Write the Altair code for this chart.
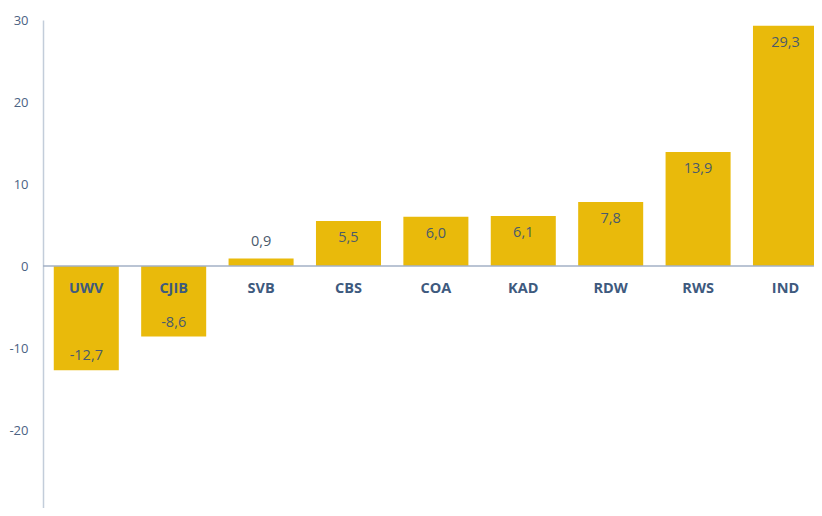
import altair as alt
import pandas as pd

categories = ["UWV", "CJIB", "SVB", "CBS", "COA", "KAD", "RDW", "RWS", "IND"]
values = [-12.7, -8.6, 0.9, 5.5, 6.0, 6.1, 7.8, 13.9, 29.3]
y_ticks = [-30, -20, -10, 0, 10, 20, 30]

df = pd.DataFrame({
    "cat": categories,
    "value": values,
    "label": [f"{v:.1f}".replace(".", ",") for v in values],
})

FONT = "Open Sans"
BAR = "#E9BA0B"
VAL_COL = "#4A5A6C"
CAT_COL = "#3E5A7E"

x = alt.X("cat:N", sort=categories, title=None, axis=None,
          scale=alt.Scale(paddingInner=0.256, paddingOuter=0.0616, align=1,
                          range=[0, 775]))
y_scale = alt.Scale(domain=[-30, 30], nice=False, zero=True, range=[492, 0])

base = alt.Chart(df)

bars = base.mark_bar(color=BAR).encode(
    x=x,
    y=alt.Y("value:Q", scale=y_scale, title=None,
            axis=alt.Axis(values=y_ticks, grid=False, ticks=False, domain=True,
                          domainColor="#C3CDDA", domainWidth=1.5,
                          labelColor="#4B6283", labelFont=FONT, labelFontSize=13,
                          labelPadding=15,
                          labelExpr="replace(datum.label, '\u2212', '-')")),
    y2=alt.datum(0),
)

zero = alt.Chart(pd.DataFrame({"z": [0]})).mark_rule(color="#A3B1C6", strokeWidth=1.5).encode(
    y=alt.Y("z:Q", scale=y_scale),
    x=alt.value(0),
    x2=alt.value(800),
)

cat_text = base.mark_text(font=FONT, fontSize=14.5, fontWeight="bold", color=CAT_COL,
                          baseline="middle", dy=23).encode(
    x=x, y=alt.datum(0), text="cat:N")

val_in = base.transform_filter("datum.value >= 3").mark_text(
    font=FONT, fontSize=14.5, color=VAL_COL, baseline="middle", dy=17).encode(
    x=x, y=alt.Y("value:Q", scale=y_scale), text="label:N")

val_above = base.transform_filter("datum.value >= 0 && datum.value < 3").mark_text(
    font=FONT, fontSize=14.5, color=VAL_COL, baseline="middle", dy=-17).encode(
    x=x, y=alt.Y("value:Q", scale=y_scale), text="label:N")

val_neg = base.transform_filter("datum.value < 0").mark_text(
    font=FONT, fontSize=14.5, color=VAL_COL, baseline="middle", dy=-14).encode(
    x=x, y=alt.Y("value:Q", scale=y_scale), text="label:N")

chart = alt.layer(bars, zero, cat_text, val_in, val_above, val_neg).properties(
    width=771, height=488,
    background="white",
    autosize=alt.AutoSizeParams(type="none"),
    padding={"left": 35, "top": 12, "right": 0, "bottom": 0},
).configure_view(strokeWidth=0, stroke="transparent")

chart.save("out.html", embed_options={"renderer": "svg", "actions": False})
